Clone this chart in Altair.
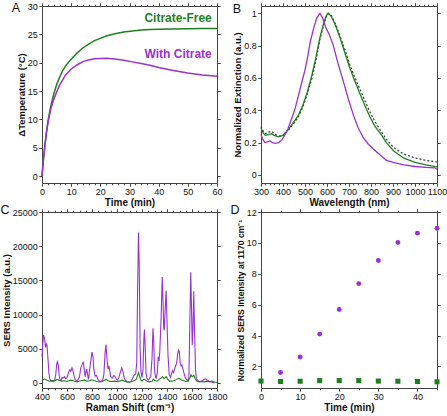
import altair as alt
import pandas as pd

FONT = "Liberation Sans"
GREEN = "#1f7f1f"
PURPLE = "#9a32d0"
FRAME = "#444444"

# ---------------- A: temperature rise ----------------
time_a = [0, 0.5, 1, 1.5, 2, 2.5, 3, 4, 5, 6, 7, 8, 10, 12, 14, 16, 18, 20, 22,
          25, 28, 31, 34, 37, 40, 45, 50, 55, 60]
free_a = [0, 3.0, 5.5, 7.7, 9.6, 11.0, 12.3, 14.4, 16.1, 17.4, 18.5, 19.4, 20.6,
          21.7, 22.6, 23.3, 23.9, 24.3, 24.7, 25.1, 25.4, 25.6, 25.75, 25.85,
          25.9, 25.95, 26.0, 26.05, 26.05]
citrate_a = [0, 3.0, 5.4, 7.5, 9.2, 10.6, 11.8, 13.5, 14.8, 16.0, 16.9, 17.8,
             18.9, 19.6, 20.2, 20.5, 20.7, 20.75, 20.8, 20.65, 20.45, 20.15,
             19.85, 19.55, 19.15, 18.65, 18.2, 17.85, 17.6]

# ---------------- B: extinction spectra ----------------
wl_free = [300, 310, 320, 335, 348, 360, 379, 400, 424, 450, 470, 490, 510, 530,
           550, 568, 585, 597, 606, 620, 640, 659, 680, 704, 727, 750, 772, 795,
           818, 841, 870, 902, 947, 1000, 1050, 1100]
ext_free = [0.29, 0.26, 0.245, 0.25, 0.255, 0.245, 0.235, 0.245, 0.28, 0.33,
            0.37, 0.43, 0.51, 0.61, 0.73, 0.85, 0.94, 0.985, 1.0, 0.98, 0.92,
            0.85, 0.76, 0.66, 0.58, 0.50, 0.43, 0.36, 0.30, 0.26, 0.20, 0.15,
            0.105, 0.078, 0.062, 0.05]
wl_cit = [300, 308, 318, 330, 340, 352, 364, 380, 394, 410, 424, 440, 455, 470,
          485, 500, 512, 525, 540, 553, 568, 580, 595, 610, 629, 650, 674, 697,
          720, 742, 765, 788, 810, 841, 870, 900, 950, 1000, 1050, 1090, 1100]
ext_cit = [0.25, 0.22, 0.20, 0.205, 0.21, 0.20, 0.195, 0.20, 0.215, 0.25, 0.29,
           0.35, 0.41, 0.49, 0.57, 0.65, 0.73, 0.83, 0.91, 0.97, 1.0, 0.97,
           0.91, 0.87, 0.80, 0.69, 0.58, 0.47, 0.37, 0.29, 0.23, 0.19, 0.16,
           0.125, 0.09, 0.077, 0.062, 0.052, 0.047, 0.044, 0.035]
wl_ref = [300, 310, 320, 335, 348, 360, 379, 400, 424, 450, 470, 490, 510, 530,
          550, 568, 585, 597, 604, 620, 640, 659, 680, 704, 727, 750, 772, 795,
          818, 841, 870, 902, 947, 1000, 1050, 1100]
ext_ref = [0.30, 0.27, 0.255, 0.265, 0.27, 0.255, 0.24, 0.245, 0.275, 0.32,
           0.36, 0.42, 0.50, 0.59, 0.71, 0.84, 0.93, 0.98, 1.0, 0.985, 0.93,
           0.86, 0.78, 0.68, 0.60, 0.53, 0.46, 0.39, 0.33, 0.28, 0.22, 0.17,
           0.13, 0.105, 0.09, 0.08]

# ---------------- C: SERS spectra ----------------
shift_cit = [400, 405, 412, 420, 428, 435, 440, 448, 455, 462, 470, 480, 490,
             500, 510, 518, 524, 530, 538, 545, 552, 560, 570, 580, 590, 600,
             612, 622, 630, 640, 648, 658, 668, 680, 690, 700, 710, 722, 730,
             738, 745, 752, 758, 765, 772, 780, 790, 800, 808, 815, 825, 835,
             845, 855, 870, 885, 895, 905, 912, 920, 928, 935, 942, 950, 962,
             975, 985, 995, 1005, 1015, 1028, 1038, 1048, 1058, 1070, 1085,
             1100, 1110, 1120, 1130, 1140, 1150, 1158, 1165, 1172, 1178, 1185,
             1192, 1200, 1208, 1215, 1220, 1226, 1232, 1240, 1250, 1260, 1270,
             1280, 1288, 1294, 1300, 1308, 1315, 1322, 1330, 1336, 1342, 1352,
             1362, 1368, 1374, 1378, 1386, 1393, 1400, 1408, 1418, 1428, 1438,
             1445, 1452, 1460, 1470, 1478, 1485, 1492, 1498, 1505, 1512, 1520,
             1528, 1535, 1545, 1555, 1565, 1575, 1582, 1590, 1596, 1602, 1608,
             1614, 1620, 1628, 1635, 1650, 1665, 1680, 1695, 1705, 1715, 1725,
             1740, 1760, 1780]
sers_cit = [3800, 5500, 7000, 6500, 5200, 5700, 5500, 3500, 1500, 600, 300, 200,
            250, 300, 1200, 2800, 3100, 2600, 1000, 400, 300, 800, 700, 900,
            600, 800, 1500, 1900, 1700, 2200, 1800, 900, 400, 300, 500, 900,
            2200, 2700, 3100, 2000, 900, 1600, 2000, 1200, 500, 1800, 3200,
            4500, 3800, 2000, 1000, 1100, 600, 300, 200, 400, 1200, 4500, 5600,
            3500, 2000, 2500, 1800, 900, 700, 1100, 900, 500, 400, 800, 1600,
            2200, 1600, 700, 300, 150, 100, 200, 500, 900, 1200, 1300, 3000,
            14000, 22000, 17000, 5000, 1500, 800, 2000, 6500, 7800, 5000, 1500,
            700, 400, 600, 1000, 3500, 8000, 6000, 2000, 800, 700, 1500, 3800,
            3200, 4500, 9000, 15500, 12000, 8000, 7700, 11000, 13500, 9000,
            4000, 1200, 800, 1500, 1800, 1500, 2000, 2500, 3000, 4200, 4800,
            4600, 3000, 2500, 2600, 2000, 1500, 800, 500, 300, 700, 8000, 16200,
            11000, 5500, 8000, 13400, 8000, 2000, 600, 300, 200, 300, 500, 600,
            500, 400, 200, 100, 0]
shift_free = [400, 420, 440, 460, 480, 500, 520, 540, 560, 580, 600, 620, 640,
              660, 680, 700, 720, 740, 760, 780, 800, 820, 840, 860, 880, 900,
              912, 925, 940, 960, 980, 1000, 1020, 1040, 1060, 1080, 1100,
              1120, 1140, 1155, 1165, 1172, 1180, 1190, 1200, 1215, 1225, 1240,
              1260, 1280, 1290, 1300, 1320, 1340, 1355, 1365, 1375, 1385, 1395,
              1405, 1420, 1440, 1460, 1480, 1495, 1510, 1530, 1550, 1570, 1585,
              1592, 1600, 1608, 1615, 1625, 1640, 1660, 1680, 1700, 1720, 1740,
              1760, 1770, 1790, 1800]
sers_free = [350, 550, 400, 250, 350, 300, 500, 350, 250, 300, 200, 350, 400,
             250, 150, 250, 350, 400, 250, 300, 450, 300, 200, 150, 200, 350,
             550, 350, 250, 200, 250, 200, 250, 400, 250, 150, 100, 200, 350,
             550, 1100, 1500, 1000, 450, 250, 550, 450, 250, 150, 250, 550, 350,
             250, 550, 750, 900, 650, 750, 900, 550, 250, 250, 350, 550, 700,
             500, 350, 200, 250, 800, 1200, 900, 1000, 1100, 600, 250, 150, 200,
             150, 250, 150, 300, 150, 100, 50]

# ---------------- D: band intensity vs time ----------------
time_d = [0, 5, 10, 15, 20, 25, 30, 35, 40, 45]
free_d = [1.05, 1.02, 1.04, 1.08, 1.08, 1.08, 1.05, 1.04, 1.02, 1.0]
time_d_cit = [5, 10, 15, 20, 25, 30, 35, 40, 45]
cit_d = [1.6, 2.61, 4.09, 5.68, 7.36, 8.86, 10.02, 10.63, 10.95]


def minor_axes(values, major, title, fmt, label_axis=True):
    test = f"datum.value % {major} !== 0"
    common = dict(
        values=values,
        tickSize={"condition": {"test": test, "value": 1.8}, "value": 3.2},
        labelFlush=False,
        labelOverlap=False,
    )
    bottom = alt.Axis(orient="bottom", title=title, format=fmt,
                      labelExpr=f"{test} ? '' : datum.label", **common)
    top = alt.Axis(orient="top", title=None, labels=False, **common)
    return bottom, top


def y_axes(values, title, fmt, title_size=9.5):
    left = alt.Axis(orient="left", values=values, title=title, format=fmt,
                    tickSize=3.2, titleFontSize=title_size)
    right = alt.Axis(orient="right", values=values, title=None, labels=False,
                     tickSize=3.2)
    return left, right


def letter(txt, dx, dy):
    return alt.Chart(pd.DataFrame({"t": [txt]})).mark_text(
        font=FONT, fontSize=12.5, align="center", baseline="middle", color="#111"
    ).encode(x=alt.value(dx), y=alt.value(dy), text="t:N")


# ---------- panel A ----------
da = pd.DataFrame({"t": time_a, "free": free_a, "cit": citrate_a})
xs_a = alt.Scale(domain=[0, 60], nice=False)
ys_a = alt.Scale(domain=[-1.2, 30], nice=False)
xa_b, xa_t = minor_axes(list(range(0, 61, 2)), 10, "Time (min)", "d")
ya_l, ya_r = y_axes(list(range(0, 31, 5)), "ΔTemperature (°C)", "d")

a_free = alt.Chart(da).mark_line(color=GREEN, strokeWidth=1.5).encode(
    x=alt.X("t:Q", scale=xs_a, axis=xa_b), y=alt.Y("free:Q", scale=ys_a, axis=ya_l))
a_cit = alt.Chart(da).mark_line(color=PURPLE, strokeWidth=1.5).encode(
    x=alt.X("t:Q", scale=xs_a, axis=None), y=alt.Y("cit:Q", scale=ys_a, axis=None))
a_frame = alt.Chart(da).mark_point(opacity=0).encode(
    x=alt.X("t:Q", scale=xs_a, axis=xa_t), y=alt.Y("free:Q", scale=ys_a, axis=ya_r))
lab_a = pd.DataFrame({"x": [58.2, 58.2], "y": [27.9, 21.6],
                      "s": ["Citrate-Free", "With Citrate"],
                      "c": [GREEN, PURPLE]})
a_text = alt.Chart(lab_a).mark_text(
    font=FONT, fontSize=12, fontWeight="bold", align="right", baseline="middle"
).encode(x=alt.X("x:Q", scale=xs_a, axis=None), y=alt.Y("y:Q", scale=ys_a, axis=None),
         text="s:N", color=alt.Color("c:N", scale=None))
panel_a = alt.layer(a_free, a_cit, a_frame, a_text, letter("A", -26, 2)).resolve_axis(
    x="independent", y="independent").properties(width=175, height=177)

# ---------- panel B ----------
db_free = pd.DataFrame({"w": wl_free, "e": ext_free})
db_cit = pd.DataFrame({"w": wl_cit, "e": ext_cit})
db_ref = pd.DataFrame({"w": wl_ref, "e": ext_ref})
xs_b = alt.Scale(domain=[300, 1100], nice=False)
ys_b = alt.Scale(domain=[-0.05, 1.045], nice=False)
xb_b, xb_t = minor_axes(list(range(300, 1101, 20)), 100, "Wavelength (nm)", "d")
yb_l, yb_r = y_axes([0, 0.2, 0.4, 0.6, 0.8, 1.0], "Normalized Extinction (a.u.)", "~g")

b_ref = alt.Chart(db_ref).mark_line(color="#333333", strokeWidth=1.2,
                                    strokeDash=[2, 2]).encode(
    x=alt.X("w:Q", scale=xs_b, axis=xb_b), y=alt.Y("e:Q", scale=ys_b, axis=yb_l))
b_free = alt.Chart(db_free).mark_line(color=GREEN, strokeWidth=1.3).encode(
    x=alt.X("w:Q", scale=xs_b, axis=None), y=alt.Y("e:Q", scale=ys_b, axis=None))
b_cit = alt.Chart(db_cit).mark_line(color=PURPLE, strokeWidth=1.3).encode(
    x=alt.X("w:Q", scale=xs_b, axis=None), y=alt.Y("e:Q", scale=ys_b, axis=None))
b_frame = alt.Chart(db_free).mark_point(opacity=0).encode(
    x=alt.X("w:Q", scale=xs_b, axis=xb_t), y=alt.Y("e:Q", scale=ys_b, axis=yb_r))
panel_b = alt.layer(b_ref, b_free, b_cit, b_frame, letter("B", -24, 3)).resolve_axis(
    x="independent", y="independent").properties(width=176, height=177)

# ---------- panel C ----------
dc_cit = pd.DataFrame({"s": shift_cit, "i": sers_cit})
dc_free = pd.DataFrame({"s": shift_free, "i": sers_free})
xs_c = alt.Scale(domain=[400, 1800], nice=False)
ys_c = alt.Scale(domain=[-750, 25000], nice=False)
xc_b, xc_t = minor_axes(list(range(400, 1801, 50)), 200, "Raman Shift (cm⁻¹)", "d")
yc_l, yc_r = y_axes(list(range(0, 25001, 5000)), "SERS Intensity (a.u.)", "d")

c_cit = alt.Chart(dc_cit).mark_line(color=PURPLE, strokeWidth=1.1).encode(
    x=alt.X("s:Q", scale=xs_c, axis=xc_b), y=alt.Y("i:Q", scale=ys_c, axis=yc_l))
c_free = alt.Chart(dc_free).mark_line(color=GREEN, strokeWidth=1.1).encode(
    x=alt.X("s:Q", scale=xs_c, axis=None), y=alt.Y("i:Q", scale=ys_c, axis=None))
c_frame = alt.Chart(dc_free).mark_point(opacity=0).encode(
    x=alt.X("s:Q", scale=xs_c, axis=xc_t), y=alt.Y("i:Q", scale=ys_c, axis=yc_r))
panel_c = alt.layer(c_cit, c_free, c_frame, letter("C", -37, -2)).resolve_axis(
    x="independent", y="independent").properties(width=175, height=176)

# ---------- panel D ----------
dd_free = pd.DataFrame({"t": time_d, "v": free_d})
dd_cit = pd.DataFrame({"t": time_d_cit, "v": cit_d})
xs_d = alt.Scale(domain=[0, 45], nice=False)
ys_d = alt.Scale(domain=[0.6, 12], nice=False)
xd_b, xd_t = minor_axes(list(range(0, 46, 5)), 10, "Time (min)", "d")
yd_l, yd_r = y_axes(list(range(2, 13, 2)), "Normalized SERS Intensity at 1170 cm⁻¹",
                    "d", title_size=8.6)

d_free = alt.Chart(dd_free).mark_square(color=GREEN, size=26, opacity=1).encode(
    x=alt.X("t:Q", scale=xs_d, axis=xd_b), y=alt.Y("v:Q", scale=ys_d, axis=yd_l))
d_cit = alt.Chart(dd_cit).mark_circle(color=PURPLE, size=24, opacity=1).encode(
    x=alt.X("t:Q", scale=xs_d, axis=None), y=alt.Y("v:Q", scale=ys_d, axis=None))
d_frame = alt.Chart(dd_free).mark_point(opacity=0).encode(
    x=alt.X("t:Q", scale=xs_d, axis=xd_t), y=alt.Y("v:Q", scale=ys_d, axis=yd_r))
panel_d = alt.layer(d_free, d_cit, d_frame, letter("D", -26, -2)).resolve_axis(
    x="independent", y="independent").properties(width=176, height=176)

chart = alt.concat(
    panel_a, panel_b, panel_c, panel_d,
    columns=2, spacing={"row": 29, "column": 44}, bounds="flush",
).properties(
    padding={"left": 0, "top": 2, "right": 0, "bottom": 0},
    background="white",
).configure_view(stroke=None).configure_axis(
    grid=False,
    domainColor=FRAME,
    tickColor=FRAME,
    domainWidth=1,
    tickWidth=1,
    labelFont=FONT,
    labelFontSize=9,
    labelColor="#111111",
    labelPadding=1.5,
    titleFont=FONT,
    titleFontSize=10,
    titleFontWeight="bold",
    titleColor="#111111",
    titlePadding=1,
)

chart.save("out.html", embed_options={"renderer": "svg", "actions": False})
